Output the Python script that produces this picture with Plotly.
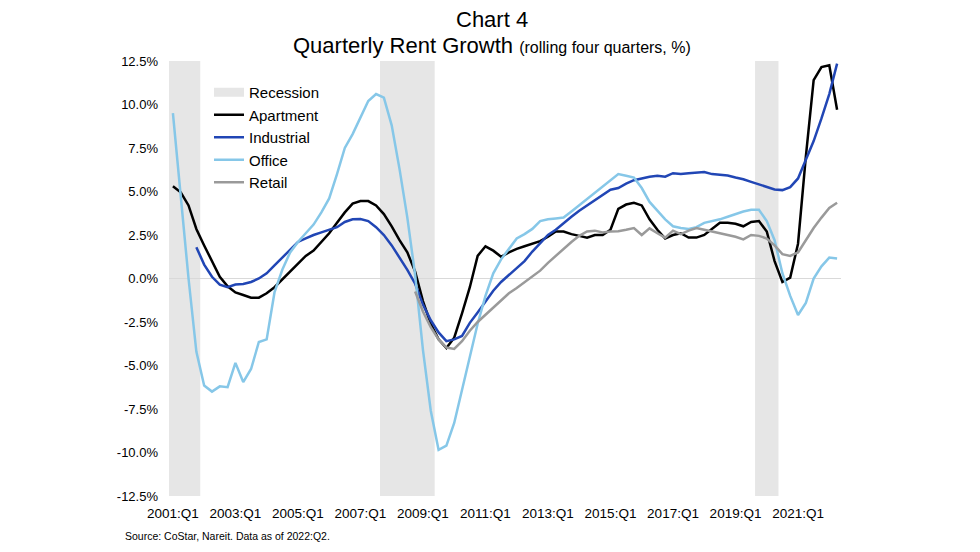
import plotly.graph_objects as go

# Categories: quarters 2001:Q1 .. 2022:Q2
quarters = [f"{y}:Q{q}" for y in range(2001, 2023) for q in range(1, 5)][:86]

x_tick_labels = ["2001:Q1", "2003:Q1", "2005:Q1", "2007:Q1", "2009:Q1",
                 "2011:Q1", "2013:Q1", "2015:Q1", "2017:Q1", "2019:Q1", "2021:Q1"]
y_tick_vals = [-12.5, -10.0, -7.5, -5.0, -2.5, 0.0, 2.5, 5.0, 7.5, 10.0, 12.5]
y_tick_labels = ["-12.5%", "-10.0%", "-7.5%", "-5.0%", "-2.5%", "0.0%",
                 "2.5%", "5.0%", "7.5%", "10.0%", "12.5%"]

# Recession periods (first and last quarter)
recessions = [("2001:Q1", "2001:Q4"), ("2007:Q4", "2009:Q2"), ("2019:Q4", "2020:Q2")]

apartment = [
    5.3, 4.95, 4.2, 2.85, 1.9, 1.0, 0.1, -0.45, -0.8, -0.95,
    -1.1, -1.1, -0.85, -0.5, -0.05, 0.4, 0.8, 1.3, 1.6, 2.1,
    2.6, 3.2, 3.8, 4.3, 4.45, 4.45, 4.2, 3.7, 3.0, 2.2,
    1.5, 0.4, -1.3, -2.6, -3.5, -4.0, -3.4, -2.0, -0.5, 1.3,
    1.85, 1.6, 1.25, 1.5, 1.7, 1.85, 2.0, 2.15, 2.4, 2.7,
    2.7, 2.55, 2.45, 2.35, 2.5, 2.5, 2.8, 4.0, 4.25, 4.35,
    4.2, 3.4, 2.8, 2.3, 2.5, 2.6, 2.35, 2.35, 2.5, 2.85,
    3.2, 3.2, 3.15, 3.0, 3.25, 3.3, 2.7, 1.0, -0.2, 0.05,
    2.0, 7.0, 11.4, 12.15, 12.25, 9.7,
]

industrial = [
    None, None, None, 1.8, 0.8, 0.1, -0.35, -0.5, -0.35, -0.32,
    -0.2, 0.0, 0.3, 0.75, 1.2, 1.6, 2.1, 2.3, 2.5, 2.65,
    2.8, 2.95, 3.25, 3.4, 3.42, 3.3, 2.95, 2.5, 1.9, 1.2,
    0.5, -0.3, -1.5, -2.4, -3.1, -3.6, -3.5, -3.3, -2.55, -1.95,
    -1.3, -0.7, -0.2, 0.2, 0.6, 1.0, 1.55, 2.0, 2.5, 2.8,
    3.2, 3.55, 3.9, 4.2, 4.5, 4.8, 5.1, 5.2, 5.45, 5.65,
    5.75, 5.85, 5.9, 5.85, 6.05, 6.0, 6.05, 6.1, 6.12, 6.0,
    5.95, 5.92, 5.8, 5.7, 5.55, 5.42, 5.28, 5.12, 5.08, 5.25,
    5.75, 6.8, 7.9, 9.2, 10.6, 12.35,
]

office = [
    9.5, 4.7, 0.0, -4.2, -6.15, -6.5, -6.2, -6.25, -4.85, -5.95,
    -5.2, -3.65, -3.5, -0.8, 0.5, 1.5, 2.1, 2.6, 3.1, 3.8,
    4.6, 6.0, 7.5, 8.3, 9.3, 10.2, 10.6, 10.4, 8.8, 6.3,
    3.5, 0.2, -4.1, -7.6, -9.85, -9.6, -8.3, -6.4, -4.6, -2.6,
    -1.0, 0.3, 1.1, 1.7, 2.3, 2.55, 2.85, 3.3, 3.4, 3.45,
    3.5, 3.85, 4.2, 4.6, 4.9, 5.3, 5.65, 6.0, 5.9, 5.8,
    5.2, 4.4, 3.9, 3.4, 3.0, 2.9, 2.85, 2.95, 3.2, 3.3,
    3.4, 3.55, 3.7, 3.85, 3.95, 3.95, 3.3, 2.2, 0.3, -1.0,
    -2.1, -1.4, 0.0, 0.7, 1.2, 1.15,
]

retail = [None] * 31 + [
    -0.75, -1.9, -2.8, -3.5, -3.97, -4.05, -3.6, -3.0, -2.5,
    -2.1, -1.7, -1.3, -0.85, -0.55, -0.2, 0.1, 0.45, 0.9, 1.3,
    1.75, 2.1, 2.45, 2.7, 2.75, 2.65, 2.7, 2.72, 2.8, 2.9,
    2.5, 2.88, 2.6, 2.35, 2.75, 2.55, 2.75, 2.9, 2.8, 2.72,
    2.6, 2.5, 2.4, 2.25, 2.5, 2.45, 2.3, 1.9, 1.4, 1.3,
    1.5, 2.2, 2.9, 3.5, 4.05, 4.35,
]

series = [
    ("Apartment", apartment, "#000000"),
    ("Industrial", industrial, "#2146B5"),
    ("Office", office, "#86C7E8"),
    ("Retail", retail, "#9A9A9A"),
]

FONT = "Liberation Sans, Arial, sans-serif"
W, H = 980, 552
OFF = 8  # page body margin offset


def px(x):
    return (x - OFF) / W


def py(y):
    return 1 - (y - OFF) / H


fig = go.Figure()

# legend entry for recession shading
fig.add_trace(go.Scatter(x=[None], y=[None], mode="lines", name="Recession",
                         line=dict(color="#E6E6E6", width=9), hoverinfo="skip"))

for name, vals, color in series:
    fig.add_trace(go.Scatter(x=quarters, y=vals, mode="lines", name=name,
                             line=dict(color=color, width=2.5),
                             connectgaps=False))

for start, end in recessions:
    i0 = quarters.index(start)
    i1 = quarters.index(end)
    fig.add_shape(type="rect", xref="x", yref="y domain",
                  x0=i0 - 0.5, x1=i1 + 0.5, y0=0, y1=1,
                  fillcolor="#E6E6E6", line=dict(width=0), layer="below")

fig.update_layout(
    width=W, height=H,
    margin=dict(l=0, r=0, t=0, b=0, autoexpand=False),
    paper_bgcolor="white", plot_bgcolor="white",
    font=dict(family=FONT, color="#000000"),
    showlegend=True,
    legend=dict(x=px(209), y=py(76), xanchor="left", yanchor="top",
                bgcolor="rgba(0,0,0,0)", font=dict(size=15, family=FONT),
                itemwidth=30, tracegroupgap=0),
    xaxis=dict(
        type="category", automargin=False,
        domain=[px(169), px(841)],
        range=[-0.5, len(quarters) - 0.5],
        tickvals=x_tick_labels, ticktext=x_tick_labels,
        tickfont=dict(size=13.5, family=FONT),
        showgrid=False, zeroline=False, showline=False,
        ticks="", ticklabelstandoff=7,
    ),
    yaxis=dict(
        automargin=False,
        domain=[py(496), py(61)],
        range=[-12.5, 12.5],
        tickvals=y_tick_vals, ticktext=y_tick_labels,
        tickfont=dict(size=13, family=FONT),
        showgrid=False, showline=False,
        zeroline=True, zerolinecolor="#D9D9D9", zerolinewidth=1,
        ticks="", ticklabelstandoff=10,
    ),
    annotations=[
        dict(text="Chart 4", xref="paper", yref="paper", x=px(492), y=py(20),
             xanchor="center", yanchor="middle", showarrow=False,
             font=dict(size=22, family=FONT)),
        dict(text="Quarterly Rent Growth <span style='font-size:16px'>(rolling four quarters, %)</span>",
             xref="paper", yref="paper", x=px(492), y=py(46),
             xanchor="center", yanchor="middle", showarrow=False,
             font=dict(size=22, family=FONT)),
        dict(text="Source: CoStar, Nareit. Data as of 2022:Q2.",
             xref="paper", yref="paper", x=px(123), y=py(536),
             xanchor="left", yanchor="middle", showarrow=False,
             font=dict(size=10.5, family=FONT)),
    ],
)

fig.write_html("out.html")
